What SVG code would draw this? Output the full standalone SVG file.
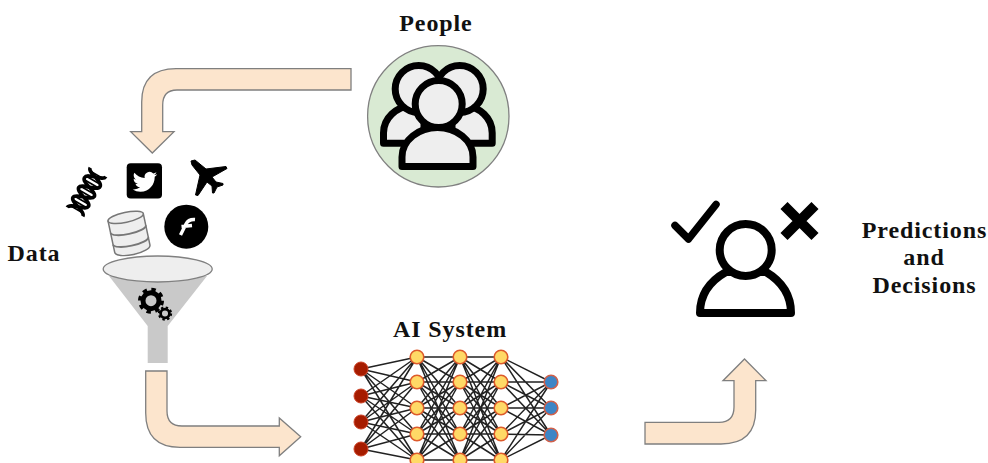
<svg xmlns="http://www.w3.org/2000/svg" width="988" height="463" viewBox="0 0 988 463">
<style>
.lbl{font-family:"Liberation Serif","DejaVu Serif",serif;font-weight:700;font-size:24px;fill:#111;text-anchor:middle;letter-spacing:.9px}
.arrow{fill:#fce5cd;stroke:#7f7f7f;stroke-width:1.3;stroke-linejoin:miter}
.icon{stroke:#000;stroke-width:7;fill:#eee;stroke-linejoin:round}
.edge{fill:none;stroke:#222;stroke-width:1.5}
.in{fill:#a61c00;stroke:#cc4125;stroke-width:1}
.hid{fill:#ffd966;stroke:#dd5a2b;stroke-width:1.6}
.out{fill:#3d85c6;stroke:#d0604a;stroke-width:1.6}
</style>
<defs>
<g id="gear"><circle r="8" fill="none" stroke="#000" stroke-width="5"/><circle r="11" fill="none" stroke="#000" stroke-width="4" stroke-dasharray="4.3 4.34"/></g>
</defs>
<rect width="988" height="463" fill="#fff"/>
<g id="connectors">
<path class="arrow" d="M351 68.7V90H177Q162.7 90 162.7 105V131.700H174L152.300 153L130.700 131.700H141.700V102Q141.700 68.700 176 68.700Z"/>
<path class="arrow" d="M145.700 371H167V411Q167 426 182 426H279.300V418L300.700 436.700L279.300 455.700V447.300H180Q145.700 447.300 145.700 413Z"/>
<path class="arrow" d="M645 422.300H719Q734 422.300 734 407V380.700H723L744.500 359L766 380.700H755.700V410Q755.700 444 721 444H645Z"/>
</g>
<g id="people">
<text class="lbl" x="436" y="31">People</text>
<circle cx="438.300" cy="116.300" r="70.700" fill="#d9ead3" stroke="#808080" stroke-width="1.300"/>
<path class="icon" d="M383.500 143.300V133C383.500 118 396 107 412 105H424V143.300Z"/>
<path class="icon" d="M492.200 143.300V133C492.200 118 480 107 464 105H452V143.300Z"/>
<circle class="icon" cx="418.700" cy="89" r="23.500"/>
<circle class="icon" cx="459.700" cy="89" r="23.500"/>
<path class="icon" d="M402 166.500V157C402 140 419 127.500 437.500 127.500S473 140 473 157V166.500Z"/>
<circle class="icon" cx="438.700" cy="104" r="23.500"/>
</g>
<g id="data">
<text class="lbl" x="34" y="261">Data</text>
<g id="dna" transform="translate(86.500 192) rotate(-60)">
<path d="M-23 -9C-17 -9 -17 9 -11.500 9S-5.500 -9 0 -9S5.500 9 11.500 9S17 -9 23 -9M-23 9C-17 9 -17 -9 -11.500 -9S-5.500 9 0 9S5.500 -9 11.500 -9S17 9 23 9" fill="none" stroke="#000" stroke-width="3.600"/>
<path d="M-20 -8V8M-13.500 -8V8M-9.500 -8V8M-2 -8V8M2 -8V8M9.500 -8V8M13.500 -8V8M20 -8V8" stroke="#000" stroke-width="1.700"/>
</g>
<g id="twitter">
<rect x="126.700" y="163.300" width="35.300" height="35.300" rx="4" fill="#000"/>
<path transform="translate(132.700 169.500) scale(1.020)" fill="#fff" d="M23.953 4.570a10 10 0 01-2.825.775 4.958 4.958 0 002.163-2.723c-.951.555-2.005.959-3.127 1.184a4.920 4.920 0 00-8.384 4.482C7.690 8.095 4.067 6.130 1.640 3.162a4.822 4.822 0 00-.666 2.475c0 1.710.870 3.213 2.188 4.096a4.904 4.904 0 01-2.228-.616v.060a4.923 4.923 0 003.946 4.827 4.996 4.996 0 01-2.212.085 4.936 4.936 0 004.604 3.417 9.867 9.867 0 01-6.102 2.105c-.390 0-.779-.023-1.170-.067a13.995 13.995 0 007.557 2.209c9.053 0 13.998-7.496 13.998-13.985 0-.210 0-.420-.015-.630A9.935 9.935 0 0024 4.590z"/>
</g>
<path id="plane" fill="#000" stroke="#000" stroke-width="1" stroke-linejoin="round" d="M191 161L195 160L206 169L226 166.500L227 168.500L212 177L216 182L223 183.500L223 185L217 187L214 193L212.500 193L212 186L207 182L198 195.500L195.500 195L200 175L192 165Z"/>
<g id="database" transform="translate(129 233) rotate(-12)">
<path d="M-18 -16V16A18 6 0 0 0 18 16V-16Z" fill="#eee" stroke="#777" stroke-width="1.500"/>
<ellipse cx="0" cy="-16" rx="18" ry="5" fill="#eee" stroke="#777" stroke-width="1.500"/>
<path d="M-18 -4A18 5 0 0 0 18 -4M-18 8A18 5 0 0 0 18 8" fill="none" stroke="#777" stroke-width="1.800"/>
</g>
<g id="facebook">
<circle cx="186.300" cy="226.700" r="22" fill="#000"/>
<path d="M180.500 235L186 224Q188.500 219 195 219.500M181.500 226.500L192 225.500" fill="none" stroke="#fff" stroke-width="3.400"/>
</g>
<g id="funnel">
<path d="M109 276H207L167.700 326V363H147.700V326Z" fill="#c9c9c9"/>
<ellipse cx="157.700" cy="269" rx="54.500" ry="13" fill="#eee" stroke="#808080" stroke-width="1.300"/>
<use href="#gear" transform="translate(151 300.700)"/>
<use href="#gear" transform="translate(165 313.500) scale(.55)"/>
</g>
</g>
<g id="ai-system">
<text class="lbl" x="450" y="336.700">AI System</text>
<path class="edge" d="M361 369L417 357M361 369L417 382M361 369L417 408M361 369L417 434M361 369L417 460M361 396L417 357M361 396L417 382M361 396L417 408M361 396L417 434M361 396L417 460M361 422L417 357M361 422L417 382M361 422L417 408M361 422L417 434M361 422L417 460M361 449L417 357M361 449L417 382M361 449L417 408M361 449L417 434M361 449L417 460"/>
<path class="edge" d="M417 357L460 357M417 357L460 382M417 357L460 408M417 357L460 434M417 357L460 460M417 382L460 357M417 382L460 382M417 382L460 408M417 382L460 434M417 382L460 460M417 408L460 357M417 408L460 382M417 408L460 408M417 408L460 434M417 408L460 460M417 434L460 357M417 434L460 382M417 434L460 408M417 434L460 434M417 434L460 460M417 460L460 357M417 460L460 382M417 460L460 408M417 460L460 434M417 460L460 460"/>
<path class="edge" d="M460 357L501 357M460 357L501 382M460 357L501 408M460 357L501 434M460 357L501 460M460 382L501 357M460 382L501 382M460 382L501 408M460 382L501 434M460 382L501 460M460 408L501 357M460 408L501 382M460 408L501 408M460 408L501 434M460 408L501 460M460 434L501 357M460 434L501 382M460 434L501 408M460 434L501 434M460 434L501 460M460 460L501 357M460 460L501 382M460 460L501 408M460 460L501 434M460 460L501 460"/>
<path class="edge" d="M501 357L551 382M501 357L551 408M501 357L551 435M501 382L551 382M501 382L551 408M501 382L551 435M501 408L551 382M501 408L551 408M501 408L551 435M501 434L551 382M501 434L551 408M501 434L551 435M501 460L551 382M501 460L551 408M501 460L551 435"/>
<circle class="in" cx="361" cy="369" r="7"/><circle class="in" cx="361" cy="396" r="7"/><circle class="in" cx="361" cy="422" r="7"/><circle class="in" cx="361" cy="449" r="7"/>
<circle class="hid" cx="417" cy="357" r="6.800"/><circle class="hid" cx="417" cy="382" r="6.800"/><circle class="hid" cx="417" cy="408" r="6.800"/><circle class="hid" cx="417" cy="434" r="6.800"/><circle class="hid" cx="417" cy="460" r="6.800"/>
<circle class="hid" cx="460" cy="357" r="6.800"/><circle class="hid" cx="460" cy="382" r="6.800"/><circle class="hid" cx="460" cy="408" r="6.800"/><circle class="hid" cx="460" cy="434" r="6.800"/><circle class="hid" cx="460" cy="460" r="6.800"/>
<circle class="hid" cx="501" cy="357" r="6.800"/><circle class="hid" cx="501" cy="382" r="6.800"/><circle class="hid" cx="501" cy="408" r="6.800"/><circle class="hid" cx="501" cy="434" r="6.800"/><circle class="hid" cx="501" cy="460" r="6.800"/>
<circle class="out" cx="551" cy="382" r="6.800"/><circle class="out" cx="551" cy="408" r="6.800"/><circle class="out" cx="551" cy="435" r="6.800"/>
</g>
<g id="predictions">
<path d="M700 313C700 295 710 281 726 272H766C781 281 791 295 791 313Z" fill="#fff" stroke="#000" stroke-width="8" stroke-linejoin="round"/>
<circle cx="745.700" cy="250" r="26" fill="#fff" stroke="#000" stroke-width="8"/>
<path d="M675 225.500L688.500 239L716 204.500" fill="none" stroke="#000" stroke-width="7.500" stroke-linecap="round" stroke-linejoin="round"/>
<path d="M784 205.500L815 236.500M815 205.500L784 236.500" fill="none" stroke="#000" stroke-width="10"/>
<text class="lbl" x="924.500" y="238">Predictions</text>
<text class="lbl" x="924" y="265">and</text>
<text class="lbl" x="924.500" y="292.700">Decisions</text>
</g>
</svg>
